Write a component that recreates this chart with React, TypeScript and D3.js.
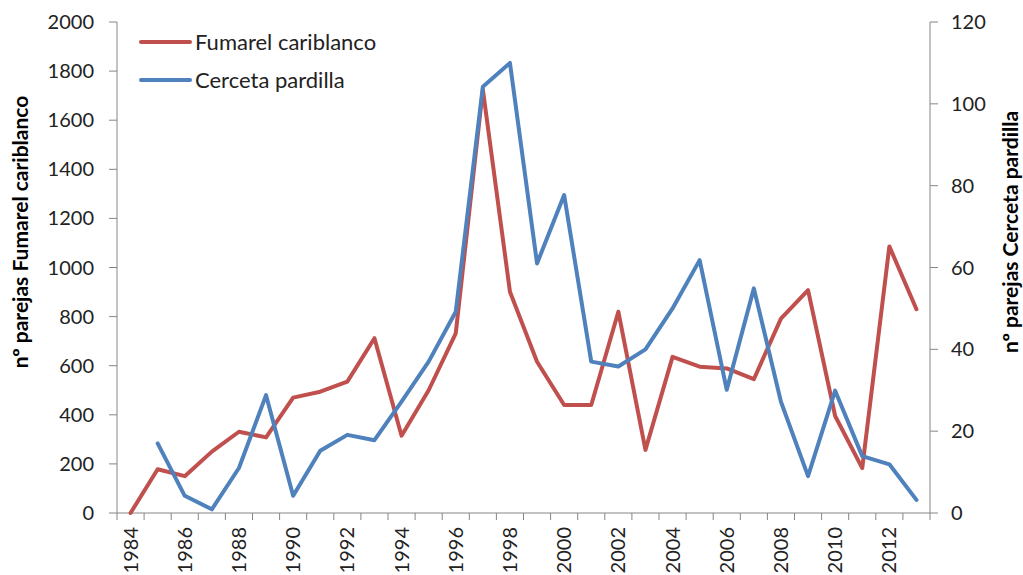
import React from 'react';
import * as d3 from 'd3';

const years = [
  '1984', '1985', '1986', '1987', '1988', '1989', '1990', '1991', '1992', '1993',
  '1994', '1995', '1996', '1997', '1998', '1999', '2000', '2001', '2002', '2003',
  '2004', '2005', '2006', '2007', '2008', '2009', '2010', '2011', '2012', '2013',
];
const fumarel = [
  0, 178, 150, 250, 331, 308, 470, 494, 535, 712,
  315, 500, 732, 1725, 901, 616, 440, 440, 820, 257,
  636, 596, 589, 545, 792, 908, 395, 183, 1086, 830,
];
const cerceta: (number | null)[] = [
  null, 17, 4.2, 0.9, 11, 28.8, 4.2, 15.2, 19.1, 17.8,
  27.2, 37, 49.2, 104.2, 110, 61, 77.7, 37, 35.8, 40,
  50, 61.8, 30.1, 54.9, 27.2, 9, 29.9, 13.9, 11.9, 3.2,
];
const leftTicks = [0, 200, 400, 600, 800, 1000, 1200, 1400, 1600, 1800, 2000];
const rightTicks = [0, 20, 40, 60, 80, 100, 120];
const seriesNames = ['Fumarel cariblanco', 'Cerceta pardilla'];
const colors = ['#C0504D', '#4F81BD'];

const W = 1023;
const H = 575;
const left = 117;
const right = 930;
const top = 22;
const bottom = 513;
const font = 'Lato, "DejaVu Sans", sans-serif';
const axisColor = '#868686';

const App = () => {
  const x = d3.scaleBand().domain(years).range([left, right]).padding(0);
  const bw = x.bandwidth();
  const cx = (d: string) => (x(d) as number) + bw / 2;
  const yL = d3.scaleLinear().domain([0, 2000]).range([bottom, top]);
  const yR = d3.scaleLinear().domain([0, 120]).range([bottom, top]);

  const lineL = d3.line<number>()
    .x((_, i) => cx(years[i]))
    .y(d => yL(d));
  const lineR = d3.line<number | null>()
    .defined(d => d != null)
    .x((_, i) => cx(years[i]))
    .y(d => yR(d as number));

  const edges = d3.range(years.length + 1).map(i => left + i * bw);

  return (
    <svg width={W} height={H} style={{ position: 'absolute', left: 0, top: 0, background: '#fff' }}
      fontFamily={font}>
      {/* left axis */}
      <line x1={left} x2={left} y1={top} y2={bottom} stroke={axisColor} />
      {leftTicks.map(t => (
        <g key={'l' + t}>
          <line x1={left - 8} x2={left} y1={yL(t)} y2={yL(t)} stroke={axisColor} />
          <text x={94} y={yL(t)} dy="0.35em" textAnchor="end" fontSize={20} fill="#222">{t}</text>
        </g>
      ))}
      {/* right axis */}
      <line x1={right} x2={right} y1={top} y2={bottom} stroke={axisColor} />
      {rightTicks.map(t => (
        <g key={'r' + t}>
          <line x1={right} x2={right + 8} y1={yR(t)} y2={yR(t)} stroke={axisColor} />
          <text x={951} y={yR(t)} dy="0.35em" textAnchor="start" fontSize={20} fill="#222">{t}</text>
        </g>
      ))}
      {/* x axis */}
      <line x1={left} x2={right} y1={bottom} y2={bottom} stroke={axisColor} />
      {edges.map((e, i) => (
        <line key={'e' + i} x1={e} x2={e} y1={bottom} y2={bottom + 7} stroke={axisColor} />
      ))}
      {years.filter((_, i) => i % 2 === 0).map(yr => (
        <text key={yr} transform={`translate(${cx(yr)},${527}) rotate(-90)`} dy="0.35em"
          textAnchor="end" fontSize={20} fill="#222">{yr}</text>
      ))}
      {/* axis titles */}
      <text transform={`translate(28,232) rotate(-90)`} textAnchor="middle" fontSize={21}
        fontWeight="bold" fill="#000">nº parejas Fumarel cariblanco</text>
      <text transform={`translate(1018,232) rotate(-90)`} textAnchor="middle" fontSize={21}
        fontWeight="bold" fill="#000">nº parejas Cerceta pardilla</text>
      {/* series */}
      <path d={lineL(fumarel) || ''} fill="none" stroke={colors[0]} strokeWidth={4}
        strokeLinejoin="round" strokeLinecap="round" />
      <path d={lineR(cerceta) || ''} fill="none" stroke={colors[1]} strokeWidth={4}
        strokeLinejoin="round" strokeLinecap="round" />
      {/* legend */}
      {seriesNames.map((n, i) => (
        <g key={n} transform={`translate(0,${42 + i * 38})`}>
          <line x1={141} x2={190} y1={0} y2={0} stroke={colors[i]} strokeWidth={4} strokeLinecap="round" />
          <text x={195} y={0} dy="0.35em" fontSize={22} fill="#222">{n}</text>
        </g>
      ))}
    </svg>
  );
};

export default App;
